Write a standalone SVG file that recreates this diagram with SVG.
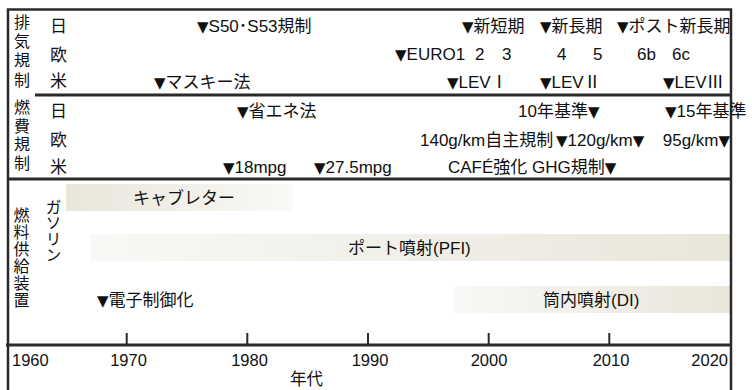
<svg xmlns="http://www.w3.org/2000/svg" width="752" height="390" viewBox="0 0 752 390">
<style>
.t{font-family:"Liberation Sans","Noto Sans CJK JP",sans-serif;font-size:17px;fill:#111}
.ax{font-size:16.5px}
.v{font-size:16px;text-anchor:middle}
.k{font-family:"DejaVu Sans",sans-serif;font-size:15px}
.ln{stroke:#2a2a2a;fill:none}
</style>
<defs>
<linearGradient id="gL" x1="0" x2="1" y1="0" y2="0"><stop offset="0" stop-color="#e9e6da"/><stop offset="1" stop-color="#f9f9f7"/></linearGradient>
<linearGradient id="gR" x1="0" x2="1" y1="0" y2="0"><stop offset="0" stop-color="#f8f8f6"/><stop offset="1" stop-color="#e9e6da"/></linearGradient>
</defs>
<rect width="752" height="390" fill="#fff"/>
<g id="bars">
<rect x="66" y="184" width="227" height="27" fill="url(#gL)"/>
<rect x="90" y="234" width="641" height="27" fill="url(#gR)"/>
<rect x="454" y="286" width="277" height="27" fill="url(#gR)"/>
</g>
<g id="connectors">
<path class="ln" stroke-width="2.5" d="M8,390V9.5H731V390"/>
<path class="ln" stroke-width="3" d="M35,95H731M8,179H731M6,345H731"/>
<path class="ln" stroke-width="2" d="M126.7,333V345M247.3,333V345M368,333V345M488.7,333V345M609.3,333V345"/>
</g>
<g id="emission-label" class="t v">
<text x="22" y="28">排</text><text x="22" y="47">気</text><text x="22" y="66">規</text><text x="22" y="85.5">制</text>
</g>
<g id="emission-rows" class="t">
<text x="50" y="32">日</text><text x="50" y="61">欧</text><text x="50" y="87">米</text>
</g>
<g id="emission-jp" class="t"><text y="32"><tspan x="197"><tspan class="k">▼</tspan>S50･S53規制</tspan><tspan x="462"><tspan class="k">▼</tspan>新短期</tspan><tspan x="540"><tspan class="k">▼</tspan>新長期</tspan><tspan x="617"><tspan class="k">▼</tspan>ポスト新長期</tspan></text></g>
<g id="emission-eu" class="t"><text y="60"><tspan x="395"><tspan class="k">▼</tspan>EURO1</tspan><tspan x="475">2</tspan><tspan x="502">3</tspan><tspan x="557">4</tspan><tspan x="593">5</tspan><tspan x="637">6b</tspan><tspan x="672">6c</tspan></text></g>
<g id="emission-us" class="t"><text y="88"><tspan x="154"><tspan class="k">▼</tspan>マスキー法</tspan><tspan x="447"><tspan class="k">▼</tspan>LEVⅠ</tspan><tspan x="540"><tspan class="k">▼</tspan>LEVⅡ</tspan><tspan x="663"><tspan class="k">▼</tspan>LEVⅢ</tspan></text></g>
<g id="fuel-label" class="t v">
<text x="22" y="113">燃</text><text x="22" y="131.5">費</text><text x="22" y="150">規</text><text x="22" y="169">制</text>
</g>
<g id="fuel-rows" class="t">
<text x="50" y="117">日</text><text x="50" y="146">欧</text><text x="50" y="173">米</text>
</g>
<g id="fuel-jp" class="t"><text y="117"><tspan x="237"><tspan class="k">▼</tspan>省エネ法</tspan><tspan x="518">10年基準<tspan class="k">▼</tspan></tspan><tspan x="665"><tspan class="k">▼</tspan>15年基準</tspan></text></g>
<g id="fuel-eu" class="t"><text y="146"><tspan x="420">140g/km自主規制</tspan><tspan x="556"><tspan class="k">▼</tspan>120g/km<tspan class="k">▼</tspan></tspan><tspan x="658"> 95g/km<tspan class="k">▼</tspan></tspan></text></g>
<g id="fuel-us" class="t"><text y="173"><tspan x="223"><tspan class="k">▼</tspan>18mpg</tspan><tspan x="314"><tspan class="k">▼</tspan>27.5mpg</tspan><tspan x="448">CAFÉ強化 GHG規制<tspan class="k">▼</tspan></tspan></text></g>
<g id="supply-label" class="t v">
<text x="21.5" y="221">燃</text><text x="21.5" y="238">料</text><text x="21.5" y="255">供</text><text x="21.5" y="272">給</text><text x="21.5" y="289">装</text><text x="21.5" y="306">置</text>
</g>
<g id="gasoline" class="t v" style="font-size:15.5px">
<text x="53.5" y="213">ガ</text><text x="53.5" y="229">ソ</text><text x="53.5" y="245">リ</text><text x="53.5" y="261">ン</text>
</g>
<g id="carb" class="t"><text x="133" y="204">キャブレター</text></g>
<g id="pfi" class="t"><text x="348" y="254">ポート噴射(PFI)</text></g>
<g id="ecu" class="t"><text x="97" y="306"><tspan class="k">▼</tspan>電子制御化</text></g>
<g id="di" class="t"><text x="543" y="306">筒内噴射(DI)</text></g>
<g id="axis" class="t ax">
<text x="12" y="366">1960</text>
<text x="128.5" y="366" text-anchor="middle">1970</text>
<text x="249.5" y="366" text-anchor="middle">1980</text>
<text x="370" y="366" text-anchor="middle">1990</text>
<text x="489" y="366" text-anchor="middle">2000</text>
<text x="611" y="366" text-anchor="middle">2010</text>
<text x="728" y="366" text-anchor="end">2020</text>
<text x="290" y="385">年代</text>
</g>
</svg>
